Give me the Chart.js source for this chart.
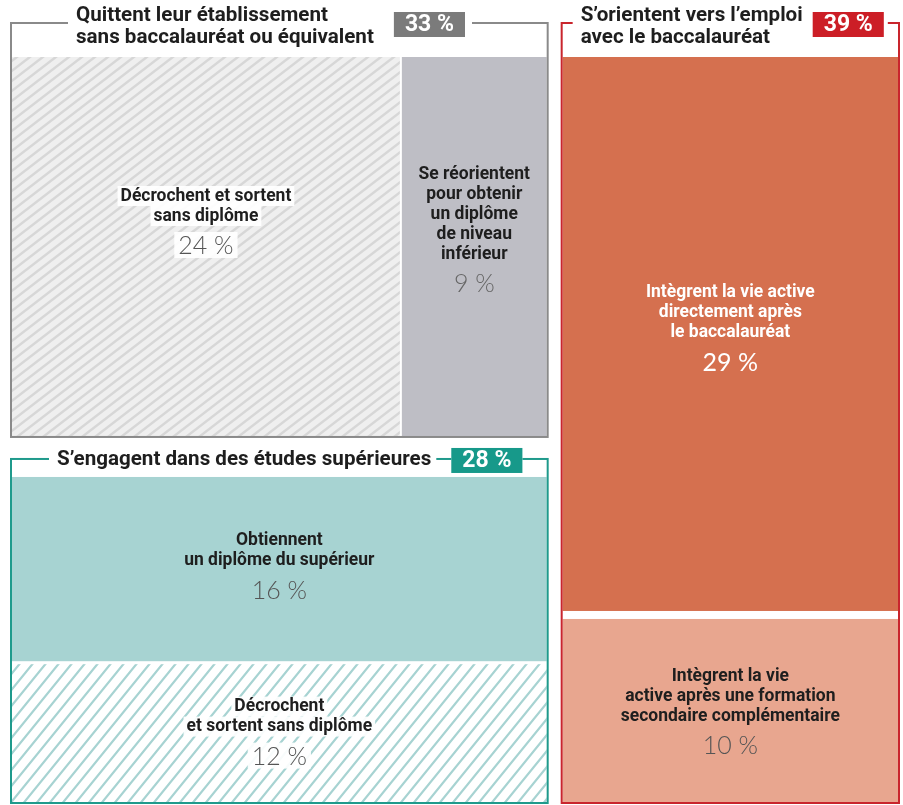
<!DOCTYPE html>
<html><head><meta charset="utf-8">
<script src="https://cdn.jsdelivr.net/npm/chart.js@4.4.1/dist/chart.umd.min.js"></script>
<style>html,body{margin:0;padding:0;background:#fff;}canvas{display:block;}</style>
</head><body>
<canvas id="c" width="903" height="805"></canvas>
<script>
// ---- DATA ----
const groupTitles = [
  ['Quittent leur établissement', 'sans baccalauréat ou équivalent'],
  ['S’engagent dans des études supérieures'],
  ['S’orientent vers l’emploi', 'avec le baccalauréat']
];
const groupShares = [33, 28, 39];
const cellLabels = [
  ['Décrochent et sortent', 'sans diplôme'],
  ['Se réorientent', 'pour obtenir', 'un diplôme', 'de niveau', 'inférieur'],
  ['Obtiennent', 'un diplôme du supérieur'],
  ['Décrochent', 'et sortent sans diplôme'],
  ['Intègrent la vie active', 'directement après', 'le baccalauréat'],
  ['Intègrent la vie', 'active après une formation', 'secondaire complémentaire']
];
const cellValues = [24, 9, 16, 12, 29, 10];
const cellGroup = [0, 0, 1, 1, 2, 2];

// ---- STYLE ----
const groupStyle = [
  {frame:'#8a8a8a', badge:'#7b7b7b', header:34, titleDx:65, titleDy:-7, badgeGapL:20, clearR:7, split:'h', gap:2, gapAfter:false},
  {frame:'#1f9a8c', badge:'#17998a', header:18, titleDx:46, titleDy:1, badgeGapL:20, clearR:0, split:'v', gap:3, gapAfter:false},
  {frame:'#c9252d', badge:'#cc1e26', header:34, titleDx:19, titleDy:-7, badgeGapL:10, clearR:4, split:'v', gap:8, gapAfter:true}
];
const cellStyle = [
  {fill:'hatchGrey', text:'#1e1e1e', pct:'#555', textBg:true, pctW:300, dy:-26},
  {fill:'#bebec5', text:'#1e1e1e', pct:'#666', pctW:300, dy:-18},
  {fill:'#a7d3d2', text:'#1e1e1e', pct:'#555', pctW:300, dy:-4},
  {fill:'hatchTeal', text:'#1e1e1e', pct:'#555', textBg:true, pctW:300, dy:-2},
  {fill:'#d5704f', text:'#ffffff', pct:'#ffffff', pctW:400, dy:-7},
  {fill:'#e8a68f', text:'#1e1e1e', pct:'#555', pctW:300, dy:0}
];
const COL_GAP_L = 5, COL_GAP_R = 9, ROW_GAP_T = 8, ROW_GAP_B = 14;
const LABEL_FONT = 'bold 19px Roboto', LABEL_SX = 0.92, LABEL_LH = 20, PCT_GAP = 29;
const TITLE_FONT = 'bold 20.6px Roboto', TITLE_SX = 1.0, TITLE_LH = 22;
const BADGE_FONT = 'bold 23px Roboto';

function makeHatch(bg, fg, w, h, lw) {
  const c = document.createElement('canvas');
  c.width = w; c.height = h;
  const g = c.getContext('2d');
  g.fillStyle = bg; g.fillRect(0, 0, w, h);
  g.strokeStyle = fg; g.lineWidth = lw;
  g.beginPath();
  g.moveTo(-w, 2*h); g.lineTo(2*w, -h);
  g.moveTo(-2*w, 2*h); g.lineTo(w, -h);
  g.moveTo(0, 2*h); g.lineTo(3*w, -h);
  g.stroke();
  return c;
}

function condensedText(ctx, text, x, y, sx, align) {
  const w = ctx.measureText(text).width * sx;
  let x0 = x;
  if (align === 'center') x0 = x - w/2;
  else if (align === 'right') x0 = x - w;
  ctx.save();
  ctx.translate(x0, y);
  ctx.scale(sx, 1);
  ctx.textAlign = 'left';
  ctx.fillText(text, 0, 0);
  ctx.restore();
  return w;
}

const treemapPlugin = {
  id: 'treemap',
  afterDatasetsDraw(chart) {
    const {ctx, scales: {x, y}} = chart;
    const patterns = {
      hatchGrey: ctx.createPattern(makeHatch('#efefef', '#d7d7d7', 13, 10, 2.5), 'repeat'),
      hatchTeal: ctx.createPattern(makeHatch('#ffffff', '#a7d3d2', 13, 16, 2.2), 'repeat')
    };
    const leftShare = groupShares[0] + groupShares[1];
    const splitY = 100 * groupShares[0] / leftShare;
    const gRects = [
      {x0: 0, x1: leftShare, y0: 0, y1: splitY},
      {x0: 0, x1: leftShare, y0: splitY, y1: 100},
      {x0: leftShare, x1: 100, y0: 0, y1: 100}
    ];
    const frames = gRects.map(r => ({
      l: x.getPixelForValue(r.x0) + (r.x0 > 0 ? COL_GAP_R : 0),
      r: x.getPixelForValue(r.x1) - (r.x1 < 100 ? COL_GAP_L : 0),
      t: y.getPixelForValue(r.y0) + (r.y0 > 0 ? ROW_GAP_B : 0),
      b: y.getPixelForValue(r.y1) - (r.y1 < 100 ? ROW_GAP_T : 0)
    }));

    const cells = [];
    frames.forEach((f, g) => {
      const st = groupStyle[g];
      const c = {l: f.l + 1, r: f.r - 1, t: f.t + st.header, b: f.b - 1};
      const idx = cellGroup.map((gg, i) => gg === g ? i : -1).filter(i => i >= 0);
      const total = idx.reduce((s, i) => s + cellValues[i], 0);
      const gb = st.gapAfter ? 0 : st.gap / 2, ga = st.gapAfter ? st.gap : st.gap / 2;
      let cum = 0;
      idx.forEach((i, k) => {
        const a = cum / total; cum += cellValues[i]; const b = cum / total;
        let rect;
        if (st.split === 'h') {
          const v0 = x.getValueForPixel(c.l), v1 = x.getValueForPixel(c.r);
          let pl = x.getPixelForValue(v0 + (v1 - v0) * a);
          let pr = x.getPixelForValue(v0 + (v1 - v0) * b);
          if (k > 0) pl += ga;
          if (k < idx.length - 1) pr -= gb;
          rect = {l: pl, r: pr, t: c.t, b: c.b};
        } else {
          const v0 = y.getValueForPixel(c.t), v1 = y.getValueForPixel(c.b);
          let pt = y.getPixelForValue(v0 + (v1 - v0) * a);
          let pb = y.getPixelForValue(v0 + (v1 - v0) * b);
          if (k > 0) pt += ga;
          if (k < idx.length - 1) pb -= gb;
          rect = {l: c.l, r: c.r, t: pt, b: pb};
        }
        cells[i] = rect;
      });
    });

    ctx.save();
    cells.forEach((r, i) => {
      const cs = cellStyle[i];
      ctx.fillStyle = patterns[cs.fill] || cs.fill;
      ctx.fillRect(r.l, r.t, r.r - r.l, r.b - r.t);
    });

    frames.forEach((f, g) => {
      const st = groupStyle[g];
      ctx.strokeStyle = st.frame;
      ctx.lineWidth = 2;
      ctx.strokeRect(f.l, f.t, f.r - f.l, f.b - f.t);
      ctx.font = TITLE_FONT;
      const lines = groupTitles[g];
      const tx = f.l + st.titleDx;
      const tw = Math.max(...lines.map(s => ctx.measureText(s).width * TITLE_SX));
      ctx.font = BADGE_FONT;
      const btxt = groupShares[g] + ' %';
      const bw = ctx.measureText(btxt).width + 22;
      const bx = tx + tw + st.badgeGapL;
      ctx.fillStyle = '#ffffff';
      ctx.fillRect(tx - 8, f.t - 3, tw + 13, 6);
      ctx.fillRect(bx - st.badgeGapL, f.t - 3, bw + st.badgeGapL + st.clearR, 6);
      if (g === 1) {
        ctx.fillStyle = st.frame;
        ctx.fillRect(tx + tw + 5, f.t - 1, bx - tx - tw - 5, 2);
      }
      ctx.fillStyle = st.badge;
      ctx.fillRect(bx, f.t + 1.5 - 12.5, bw, 25);
      ctx.fillStyle = '#ffffff';
      ctx.textBaseline = 'middle';
      ctx.textAlign = 'center';
      ctx.fillText(btxt, bx + bw / 2, f.t + 2.5);
      ctx.font = TITLE_FONT;
      ctx.fillStyle = '#1e1e1e';
      lines.forEach((s, k) => {
        condensedText(ctx, s, tx, f.t + st.titleDy + k * TITLE_LH, TITLE_SX, 'left');
      });
    });

    cells.forEach((r, i) => {
      const cs = cellStyle[i];
      const lines = cellLabels[i];
      const cx = (r.l + r.r) / 2;
      const cy = (r.t + r.b) / 2 + cs.dy;
      const blockH = (lines.length - 1) * LABEL_LH + PCT_GAP;
      const y0 = cy - blockH / 2;
      ctx.textBaseline = 'middle';
      ctx.font = LABEL_FONT;
      lines.forEach((s, k) => {
        const yy = y0 + k * LABEL_LH;
        if (cs.textBg) {
          const w = ctx.measureText(s).width * LABEL_SX;
          ctx.fillStyle = 'rgba(255,255,255,0.92)';
          ctx.fillRect(cx - w / 2 - 3, yy - 10, w + 6, 20);
        }
        ctx.fillStyle = cs.text;
        condensedText(ctx, s, cx, yy, LABEL_SX, 'center');
      });
      const py = y0 + (lines.length - 1) * LABEL_LH + PCT_GAP;
      ctx.font = cs.pctW + ' 25px Lato';
      const ptxt = cellValues[i] + ' %';
      if (cs.textBg) {
        const w = ctx.measureText(ptxt).width;
        ctx.fillStyle = 'rgba(255,255,255,0.92)';
        ctx.fillRect(cx - w / 2 - 4, py - 13, w + 8, 26);
      }
      ctx.fillStyle = cs.pct;
      ctx.textAlign = 'center';
      ctx.fillText(ptxt, cx, py + 1);
    });
    ctx.restore();
  }
};

new Chart(document.getElementById('c'), {
  type: 'scatter',
  data: {datasets: [{data: [], pointRadius: 0}]},
  options: {
    responsive: false,
    animation: false,
    layout: {padding: {left: 11, right: 4, top: 23, bottom: 2}},
    scales: {
      x: {type: 'linear', min: 0, max: 100, display: false},
      y: {type: 'linear', min: 0, max: 100, reverse: true, display: false}
    },
    plugins: {legend: {display: false}, tooltip: {enabled: false}}
  },
  plugins: [treemapPlugin]
});
</script>
</body></html>
